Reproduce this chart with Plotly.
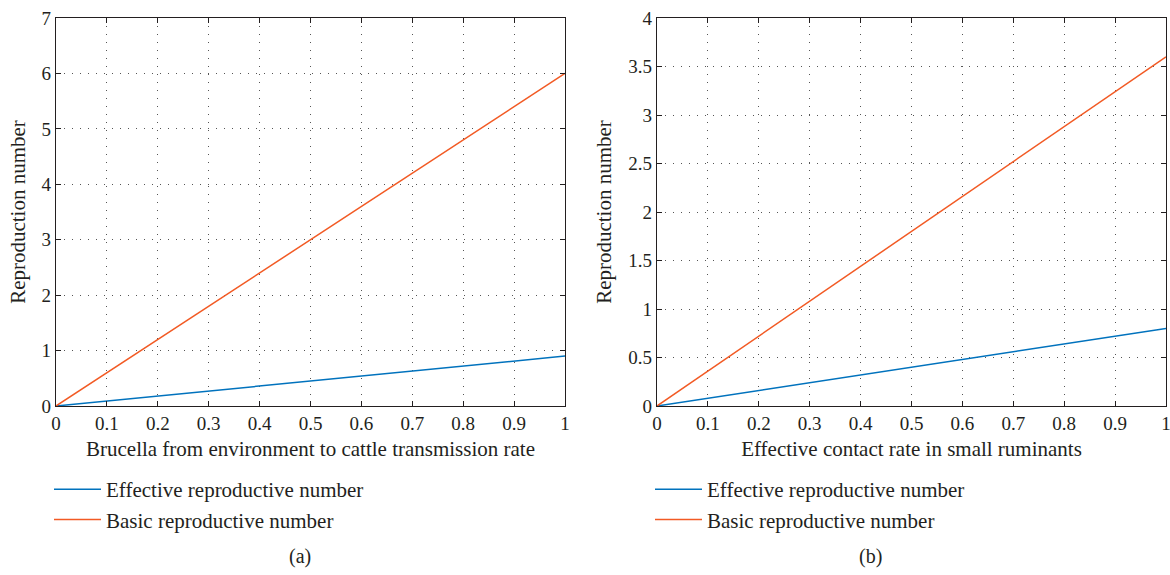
import plotly.graph_objects as go

# Data
x_vals = [0, 1]
a_effective = [0, 0.9]
a_basic = [0, 6]
b_effective = [0, 0.8]
b_basic = [0, 3.6]

a_xtitle = "Brucella from environment to cattle transmission rate"
b_xtitle = "Effective contact rate in small ruminants"
ytitle = "Reproduction number"
name_eff = "Effective reproductive number"
name_basic = "Basic reproductive number"
x_ticks = [0, 0.1, 0.2, 0.3, 0.4, 0.5, 0.6, 0.7, 0.8, 0.9, 1]
x_ticktext = ["0", "0.1", "0.2", "0.3", "0.4", "0.5", "0.6", "0.7", "0.8", "0.9", "1"]
a_yticks = [0, 1, 2, 3, 4, 5, 6, 7]
b_yticks = [0, 0.5, 1, 1.5, 2, 2.5, 3, 3.5, 4]
b_yticktext = ["0", "0.5", "1", "1.5", "2", "2.5", "3", "3.5", "4"]

BLUE = "#0072BD"
ORANGE = "#F25A24"
FONT = "Liberation Serif"
TXT = "#231f20"

W, H = 1170, 575
def px(x): return x / W
def py(y): return 1 - y / H

fig = go.Figure()
fig.add_trace(go.Scatter(x=x_vals, y=a_effective, mode="lines", name=name_eff,
                         line=dict(color=BLUE, width=1.5), xaxis="x", yaxis="y", legend="legend"))
fig.add_trace(go.Scatter(x=x_vals, y=a_basic, mode="lines", name=name_basic,
                         line=dict(color=ORANGE, width=1.5), xaxis="x", yaxis="y", legend="legend"))
fig.add_trace(go.Scatter(x=x_vals, y=b_effective, mode="lines", name=name_eff,
                         line=dict(color=BLUE, width=1.5), xaxis="x2", yaxis="y2", legend="legend2"))
fig.add_trace(go.Scatter(x=x_vals, y=b_basic, mode="lines", name=name_basic,
                         line=dict(color=ORANGE, width=1.5), xaxis="x2", yaxis="y2", legend="legend2"))

common_ax = dict(showline=True, linecolor="#231f20", linewidth=1.2, mirror="allticks",
                 ticks="inside", ticklen=5, tickcolor="#231f20", tickwidth=1,
                 showgrid=True, gridcolor="#555555", gridwidth=1, griddash="1px,7px",
                 zeroline=False, automargin=False, ticklabeloverflow="allow",
                 tickfont=dict(family=FONT, size=19, color=TXT),
                 title_font=dict(family=FONT, size=21, color=TXT))

ydom = [py(406), py(18)]
fig.update_layout(
    width=W, height=H, margin=dict(l=0, r=0, t=0, b=0),
    paper_bgcolor="white", plot_bgcolor="white",
    showlegend=True,
    font=dict(family=FONT, color=TXT),
    xaxis=dict(domain=[px(56), px(565)], range=[0, 1], tickvals=x_ticks, ticktext=x_ticktext,
               anchor="y", title=dict(text=a_xtitle, standoff=8), **common_ax),
    yaxis=dict(domain=ydom, range=[0, 7], tickvals=a_yticks, anchor="x",
               title=dict(text=ytitle, standoff=10), **common_ax),
    xaxis2=dict(domain=[px(657), px(1166)], range=[0, 1], tickvals=x_ticks, ticktext=x_ticktext,
                anchor="y2", title=dict(text=b_xtitle, standoff=8), **common_ax),
    yaxis2=dict(domain=ydom, range=[0, 4], tickvals=b_yticks, ticktext=b_yticktext, anchor="x2",
                title=dict(text=ytitle, standoff=10), **common_ax),
    legend=dict(x=px(49), y=py(469), xanchor="left", yanchor="top", itemwidth=47,
                font=dict(family=FONT, size=21, color=TXT), bgcolor="rgba(0,0,0,0)",
                tracegroupgap=0),
    legend2=dict(x=px(650), y=py(469), xanchor="left", yanchor="top", itemwidth=47,
                 font=dict(family=FONT, size=21, color=TXT), bgcolor="rgba(0,0,0,0)",
                 tracegroupgap=0),
    annotations=[
        dict(text="(a)", x=px(287), y=py(570), xref="paper", yref="paper", showarrow=False,
             yanchor="bottom", font=dict(family=FONT, size=20, color=TXT)),
        dict(text="(b)", x=px(884), y=py(570), xref="paper", yref="paper", showarrow=False,
             yanchor="bottom", font=dict(family=FONT, size=20, color=TXT)),
    ],
)

fig.write_html("out.html", config={"displayModeBar": False},
               post_script="document.body.style.margin='0';document.body.style.overflow='hidden';")
